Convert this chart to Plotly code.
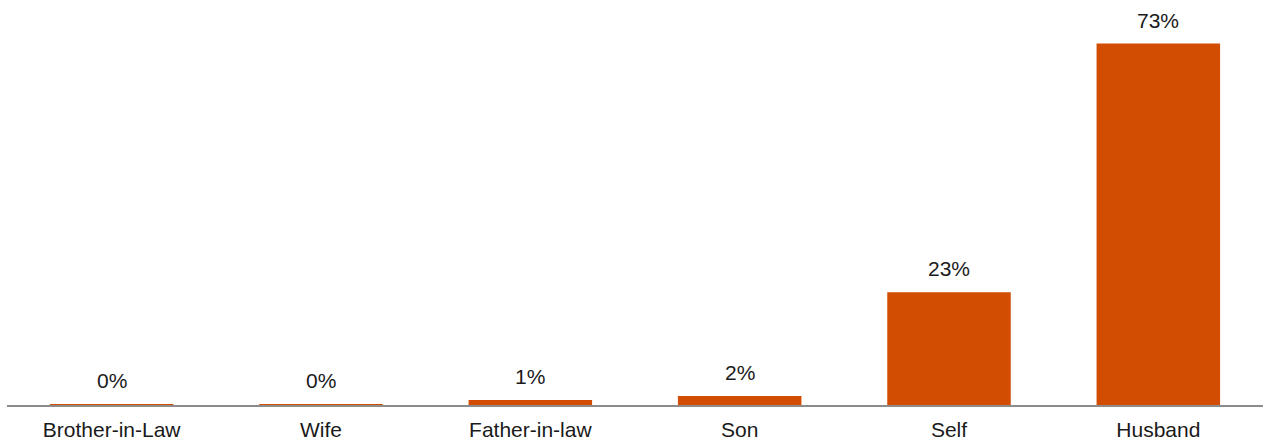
import plotly.graph_objects as go

categories = ["Brother-in-Law", "Wife", "Father-in-law", "Son", "Self", "Husband"]
values = [0.2, 0.2, 1.0, 1.8, 22.8, 73.0]
labels = ["0%", "0%", "1%", "2%", "23%", "73%"]

FONT = "Liberation Sans, Arial, sans-serif"

fig = go.Figure(go.Bar(
    x=categories, y=values,
    marker=dict(color="#D24D02", line=dict(width=0)),
))
for c, v, t in zip(categories, values, labels):
    fig.add_annotation(x=c, y=v, text=t, showarrow=False, yanchor="bottom",
                       yshift=10, font=dict(family=FONT, size=21, color="#1a1a1a"))
fig.update_layout(
    width=1263, height=443,
    margin=dict(l=7, r=0, t=5, b=38),
    plot_bgcolor="white", paper_bgcolor="white",
    bargap=0.41, showlegend=False,
    font=dict(family=FONT, size=21, color="#1a1a1a"),
)
fig.update_xaxes(showline=True, linecolor="#8c8c8c", linewidth=2, ticks="", showgrid=False,
                 tickfont=dict(family=FONT, size=21, color="#1a1a1a"), ticklabelstandoff=5)
fig.update_yaxes(visible=False, range=[0, 80.8], showgrid=False, zeroline=False)
fig.write_html("out.html")
